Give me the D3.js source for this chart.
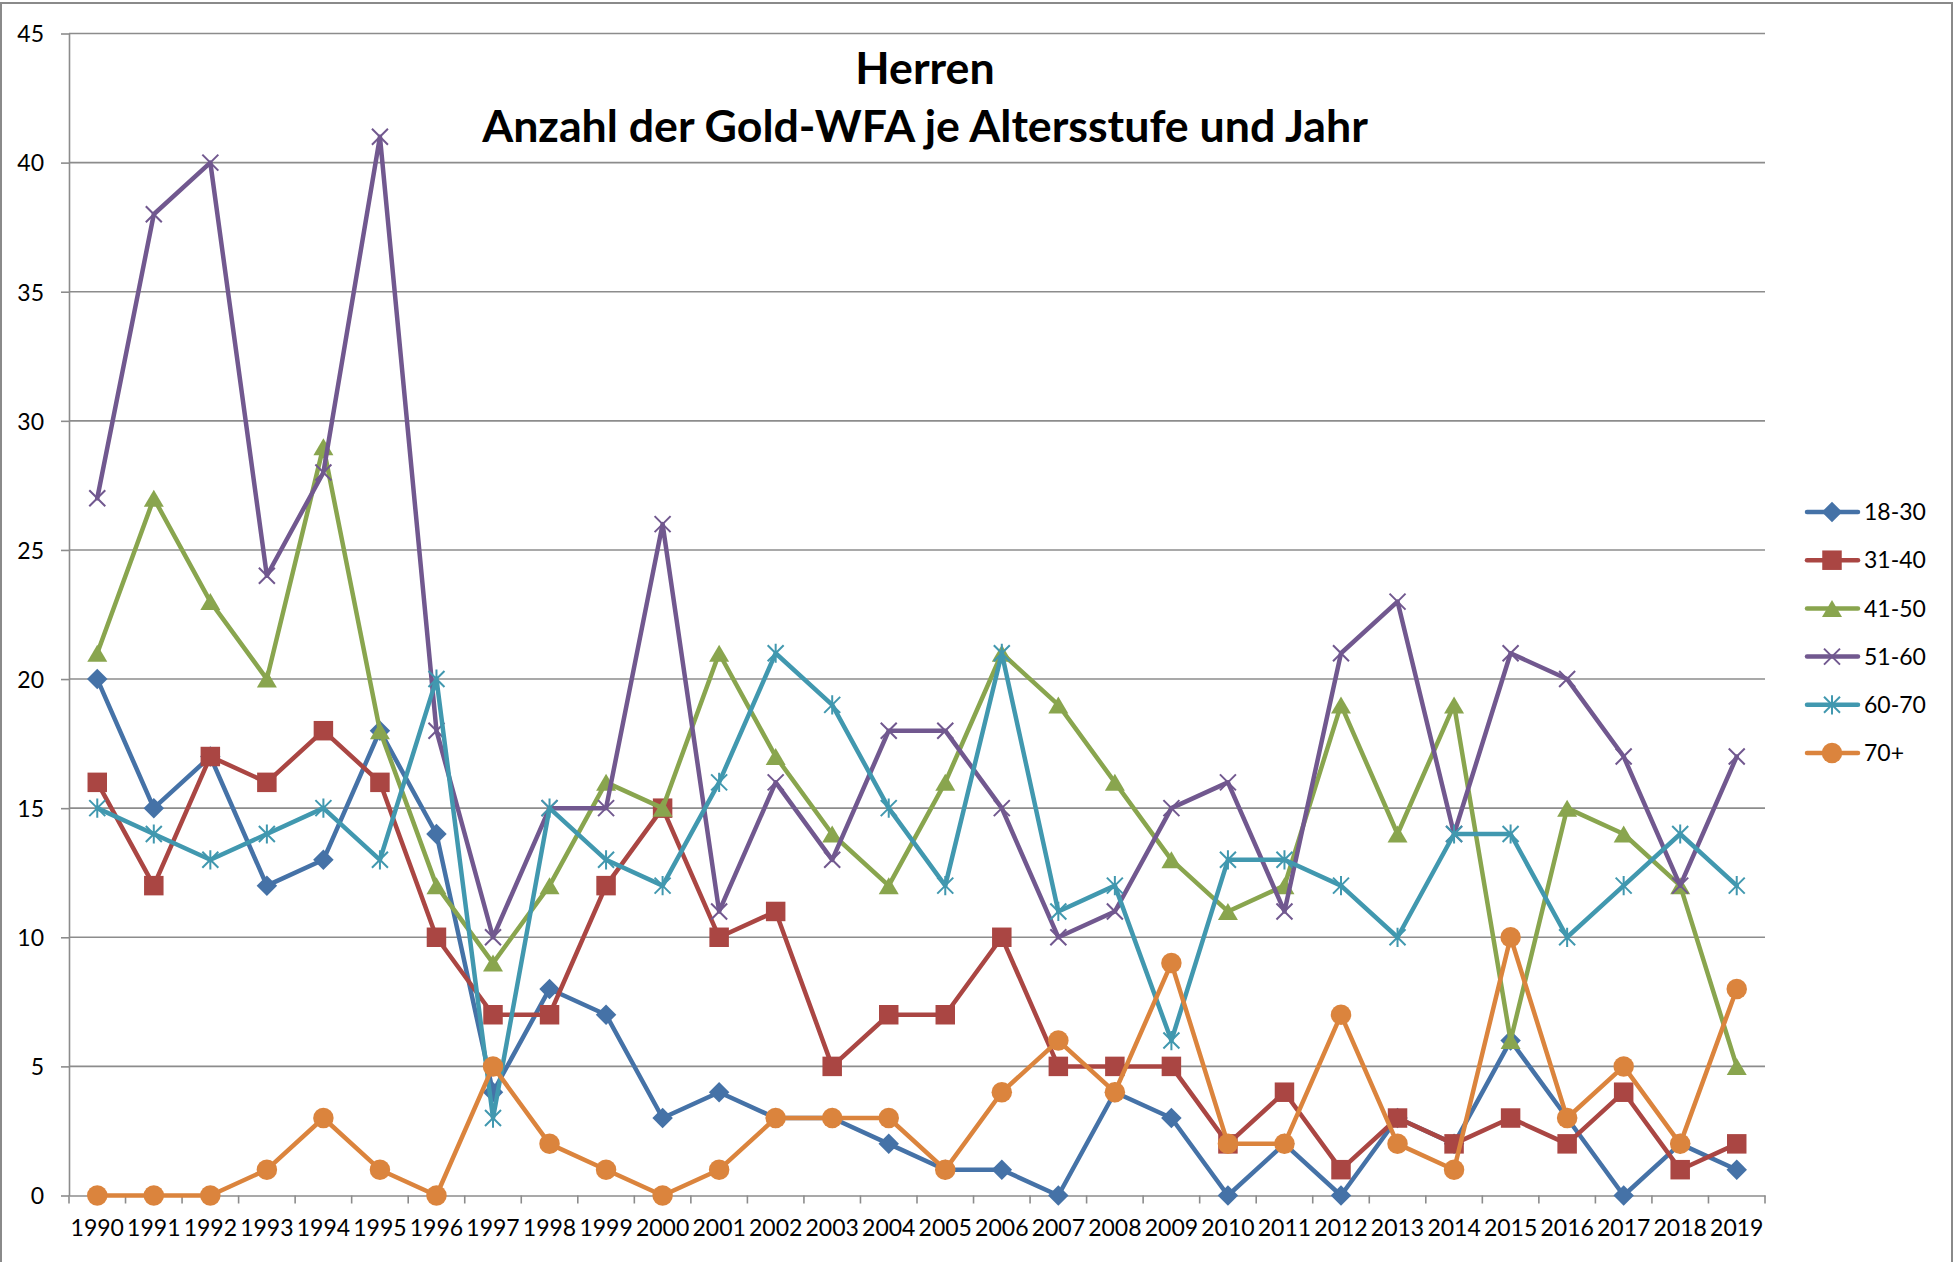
<!DOCTYPE html>
<html>
<head>
<meta charset="utf-8">
<script src="https://cdn.jsdelivr.net/npm/d3@7"></script>
<style>
  html, body { margin: 0; padding: 0; background: #fff; }
  svg { display: block; font-family: Lato, "Open Sans", sans-serif; }
</style>
</head>
<body>
<div id="chart"></div>
<script>
// Jahre (x-Achse)
const years = [1990, 1991, 1992, 1993, 1994, 1995, 1996, 1997, 1998, 1999,
               2000, 2001, 2002, 2003, 2004, 2005, 2006, 2007, 2008, 2009,
               2010, 2011, 2012, 2013, 2014, 2015, 2016, 2017, 2018, 2019];

// Altersstufen
const ageGroups = ["18-30", "31-40", "41-50", "51-60", "60-70", "70+"];

// Werte je Altersstufe
const v18_30 = [20, 15, 17, 12, 13, 18, 14, 4, 8, 7, 3, 4, 3, 3, 2, 1, 1, 0, 4, 3, 0, 2, 0, 3, 2, 6, 3, 0, 2, 1];
const v31_40 = [16, 12, 17, 16, 18, 16, 10, 7, 7, 12, 15, 10, 11, 5, 7, 7, 10, 5, 5, 5, 2, 4, 1, 3, 2, 3, 2, 4, 1, 2];
const v41_50 = [21, 27, 23, 20, 29, 18, 12, 9, 12, 16, 15, 21, 17, 14, 12, 16, 21, 19, 16, 13, 11, 12, 19, 14, 19, 6, 15, 14, 12, 5];
const v51_60 = [27, 38, 40, 24, 28, 41, 18, 10, 15, 15, 26, 11, 16, 13, 18, 18, 15, 10, 11, 15, 16, 11, 21, 23, 14, 21, 20, 17, 12, 17];
const v60_70 = [15, 14, 13, 14, 15, 13, 20, 3, 15, 13, 12, 16, 21, 19, 15, 12, 21, 11, 12, 6, 13, 13, 12, 10, 14, 14, 10, 12, 14, 12];
const v70plus = [0, 0, 0, 1, 3, 1, 0, 5, 2, 1, 0, 1, 3, 3, 3, 1, 4, 6, 4, 9, 2, 2, 7, 2, 1, 10, 3, 5, 2, 8];

const yTicks = [0, 5, 10, 15, 20, 25, 30, 35, 40, 45];

const colors = ["#4572A7", "#AA4643", "#89A54E", "#71588F", "#4198AF", "#DB843D"];

// eigene Markerformen (Excel-Stil)
const xMark = {
  draw(ctx, size) {
    const r = Math.sqrt(size) / 2;
    ctx.moveTo(-r, -r); ctx.lineTo(r, r);
    ctx.moveTo(-r, r); ctx.lineTo(r, -r);
  }
};
const starMark = {
  draw(ctx, size) {
    const r = Math.sqrt(size) / 2;
    ctx.moveTo(-r, -r); ctx.lineTo(r, r);
    ctx.moveTo(-r, r); ctx.lineTo(r, -r);
    ctx.moveTo(0, -r * 1.2); ctx.lineTo(0, r * 1.2);
  }
};
const diamondMark = {
  draw(ctx, size) {
    const r = Math.sqrt(size) / 2;
    ctx.moveTo(0, -r); ctx.lineTo(r, 0); ctx.lineTo(0, r); ctx.lineTo(-r, 0); ctx.closePath();
  }
};
const triMark = {
  draw(ctx, size) {
    const w = Math.sqrt(size) / 2;
    const h = w * 0.85;
    ctx.moveTo(0, -h); ctx.lineTo(w, h); ctx.lineTo(-w, h); ctx.closePath();
  }
};

const series = [
  { name: ageGroups[0], values: v18_30, color: colors[0], type: diamondMark, size: 420, filled: true },
  { name: ageGroups[1], values: v31_40, color: colors[1], type: d3.symbolSquare, size: 380, filled: true },
  { name: ageGroups[2], values: v41_50, color: colors[2], type: triMark, size: 400, filled: true },
  { name: ageGroups[3], values: v51_60, color: colors[3], type: xMark, size: 256, filled: false },
  { name: ageGroups[4], values: v60_70, color: colors[4], type: starMark, size: 256, filled: false },
  { name: ageGroups[5], values: v70plus, color: colors[5], type: d3.symbolCircle, size: 330, filled: true }
];

const W = 1955, H = 1262;
const plot = { left: 69, right: 1765, top: 33.5, bottom: 1195.5 };
const labelSize = 23;

const svg = d3.select("#chart").append("svg")
  .attr("width", W).attr("height", H);

// Rahmen
svg.append("rect")
  .attr("x", 1).attr("y", 3).attr("width", 1951).attr("height", 1262)
  .attr("fill", "#fff").attr("stroke", "#8a8a8a").attr("stroke-width", 2);

const x = d3.scaleBand().domain(years).range([plot.left, plot.right]).padding(0);
const y = d3.scaleLinear().domain([0, 45]).range([plot.bottom, plot.top]);

// Gitternetz
svg.append("g").selectAll("line")
  .data(yTicks.filter(d => d > 0))
  .join("line")
  .attr("x1", plot.left).attr("x2", plot.right)
  .attr("y1", d => y(d)).attr("y2", d => y(d))
  .attr("stroke", "#8c8c8c").attr("stroke-width", 1.6);

// y-Achse
const yAxis = svg.append("g")
  .attr("transform", `translate(${plot.left},0)`)
  .call(d3.axisLeft(y).tickValues(yTicks).tickSize(8).tickPadding(17).tickSizeOuter(0));
yAxis.select(".domain").attr("stroke", "#8c8c8c").attr("stroke-width", 1.6);
yAxis.selectAll(".tick line").attr("stroke", "#8c8c8c").attr("stroke-width", 1.6);
yAxis.selectAll(".tick text")
  .attr("font-family", "Lato, sans-serif").attr("font-size", labelSize).attr("fill", "#000")
  .attr("dy", "0.36em");

// x-Achse
const xAxis = svg.append("g")
  .attr("transform", `translate(0,${plot.bottom})`)
  .call(d3.axisBottom(x).tickSize(0).tickPadding(29));
xAxis.select(".domain").attr("stroke", "#8c8c8c").attr("stroke-width", 1.6);
xAxis.selectAll(".tick text")
  .attr("font-family", "Lato, sans-serif").attr("font-size", labelSize).attr("fill", "#000")
  .attr("dy", "0.5em");

// Teilstriche an den Kategoriegrenzen
const bounds = years.map(d => x(d)).concat([x(years[years.length - 1]) + x.bandwidth()]);
svg.append("g").selectAll("line")
  .data(bounds)
  .join("line")
  .attr("x1", d => d).attr("x2", d => d)
  .attr("y1", plot.bottom).attr("y2", plot.bottom + 8)
  .attr("stroke", "#8c8c8c").attr("stroke-width", 1.6);

const cx = d => x(d) + x.bandwidth() / 2;

const line = d3.line()
  .x((d, i) => cx(years[i]))
  .y(d => y(d));

// Reihen
series.forEach(s => {
  const g = svg.append("g");
  g.append("path")
    .datum(s.values)
    .attr("d", line)
    .attr("fill", "none")
    .attr("stroke", s.color)
    .attr("stroke-width", 4.5)
    .attr("stroke-linejoin", "round")
    .attr("stroke-linecap", "round");
  g.selectAll("path.m")
    .data(s.values)
    .join("path")
    .attr("class", "m")
    .attr("transform", (d, i) => `translate(${cx(years[i])},${y(d)})`)
    .attr("d", d3.symbol().type(s.type).size(s.size))
    .attr("fill", s.filled ? s.color : "none")
    .attr("stroke", s.color)
    .attr("stroke-width", s.filled ? 0 : 2);
});

// Titel
const title = svg.append("g").attr("font-family", "Lato, sans-serif").attr("font-weight", "bold").attr("fill", "#000");
const t1 = title.append("text").attr("x", 925).attr("y", 84).attr("text-anchor", "middle")
  .attr("font-size", 40).text("Herren");
const t2 = title.append("text").attr("x", 925).attr("y", 142).attr("text-anchor", "middle")
  .attr("font-size", 40).text("Anzahl der Gold-WFA je Altersstufe und Jahr");
// Breite an Vorlage anpassen
const w2 = t2.node().getComputedTextLength();
const fs = 40 * 886 / w2;
t1.attr("font-size", fs);
t2.attr("font-size", fs);

// Legende
const legend = svg.append("g");
const legY = d3.scalePoint().domain(ageGroups).range([512, 753]);
series.forEach(s => {
  const g = legend.append("g").attr("transform", `translate(0,${legY(s.name)})`);
  g.append("line").attr("x1", 1807).attr("x2", 1858).attr("y1", 0).attr("y2", 0)
    .attr("stroke", s.color).attr("stroke-width", 4.5).attr("stroke-linecap", "round");
  g.append("path")
    .attr("transform", "translate(1832,0)")
    .attr("d", d3.symbol().type(s.type).size(s.size))
    .attr("fill", s.filled ? s.color : "none")
    .attr("stroke", s.color)
    .attr("stroke-width", s.filled ? 0 : 2);
  g.append("text").attr("x", 1864).attr("y", 0).attr("dy", "0.36em")
    .attr("font-family", "Lato, sans-serif").attr("font-size", labelSize).attr("fill", "#000")
    .text(s.name);
});
</script>
</body>
</html>
